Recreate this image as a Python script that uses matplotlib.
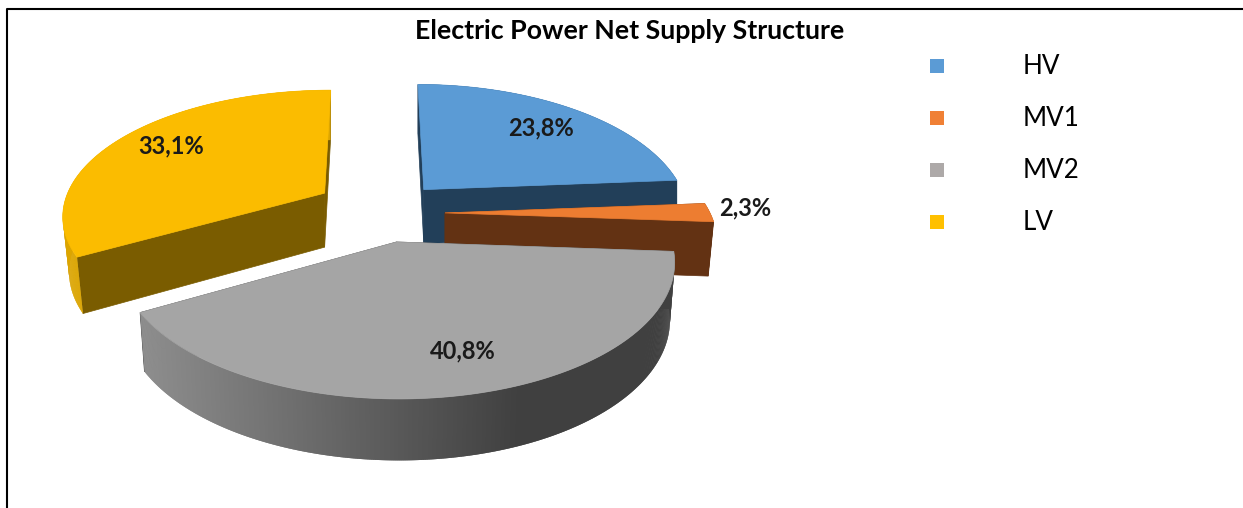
import numpy as np
import matplotlib
matplotlib.use("Agg")
import matplotlib.pyplot as plt
from matplotlib.colors import to_rgb
from matplotlib.patches import Polygon, Rectangle

title = "Electric Power Net Supply Structure"
labels = ["HV", "MV1", "MV2", "LV"]
shares = [23.8, 2.3, 40.8, 33.1]

# look of each slice
top_colors = ["#5b9bd5", "#ed7d31", "#a5a5a5", "#fbbc00"]
legend_colors = ["#5b9bd5", "#f08035", "#ada9a8", "#ffc000"]
cut_colors = ["#223f59", "#633213", "#404040", "#7a5c00"]
wall_left = ["#223f59", "#633213", "#8e8e8e", "#dca500"]
wall_right = ["#223f59", "#633213", "#404040", "#dca500"]
explode = [57, 60, 53, 70]
rx = [258, 265, 275, 257]
ry = [126, 126, 135, 120.5]
persp = [0.198, 0.198, 0.14, 0.17]
depth = [54, 54, 57, 54]
bottom_shrink = [1.0, 0.98, 0.983, 0.976]
draw_order = [3, 0, 1, 2]

# pie projection, in pixels of the picture
cx, cy = 385, 213
squash = 0.56
vanish_x = 375
skew = 0.12

fig = plt.figure(figsize=(12.43, 5.08), dpi=100)
ax = fig.add_axes([0, 0, 1, 1])
ax.set_xlim(0, 1243)
ax.set_ylim(508, 0)
ax.axis("off")

# frame of the pasted chart
ax.plot([7, 7, 1243], [508, 9, 9], color="black", lw=1.5, solid_capstyle="butt")

edges = np.concatenate([[0], np.cumsum(shares)]) / np.sum(shares) * 2 * np.pi

for i in draw_order:
    t0, t1 = edges[i], edges[i + 1]
    mid = (t0 + t1) / 2
    ox = cx + explode[i] * np.sin(mid)
    oy = cy - squash * explode[i] * np.cos(mid)
    ts = np.linspace(t0, t1, 400)
    w = 1 + persp[i] * np.cos(ts)
    px = rx[i] * np.sin(ts) / w - skew * (ox - vanish_x) * np.cos(ts)
    py = -ry[i] * np.cos(ts) / w
    top_x, top_y = ox + px, oy + py
    low_x = ox + bottom_shrink[i] * px
    low_y = top_y + depth[i] / np.sqrt(w)
    low_oy = oy + depth[i]

    # the two cut faces
    for k in [0, -1]:
        ax.add_patch(Polygon([(ox, oy), (top_x[k], top_y[k]), (low_x[k], low_y[k]), (ox, low_oy)],
                             closed=True, fc=cut_colors[i], ec=cut_colors[i], lw=0.5))

    # outer wall, shaded from left to right, each strip lapping over the next
    c0, c1 = np.array(to_rgb(wall_left[i])), np.array(to_rgb(wall_right[i]))
    for j in range(len(ts) - 2):
        f = np.clip((top_x[j] - 139) / (520 - 139), 0, 1)
        col = tuple(c0 + (c1 - c0) * f)
        ax.add_patch(Polygon([(top_x[j], top_y[j]), (top_x[j + 2], top_y[j + 2]),
                              (low_x[j + 2], low_y[j + 2]), (low_x[j], low_y[j])],
                             closed=True, fc=col, ec="none"))

    # top face
    ax.add_patch(Polygon(np.column_stack([np.r_[ox, top_x], np.r_[oy, top_y]]),
                         closed=True, fc=top_colors[i], ec=top_colors[i], lw=0.5))

# data labels
label_x = [541, 745, 463, 171]
label_y = [128, 208, 351, 146]
for v, x, y in zip(shares, label_x, label_y):
    ax.text(x, y, f"{v:.1f}%".replace(".", ","), ha="center", va="center",
            family="Lato", fontweight="bold", fontsize=17, color="#1a1a1a")

ax.text(630, 31, title, ha="center", va="center", family="Lato", fontweight="bold",
        fontsize=19.3, color="black")

# legend
for n, (lab, col) in enumerate(zip(labels, legend_colors)):
    y = 64 + 52 * n
    ax.add_patch(Rectangle((930, y - 5), 14, 14, fc=col, ec="none"))
    ax.text(1023, y + 2, lab, ha="left", va="center", family="Lato", fontsize=18.7, color="black")

fig.savefig("out.png", dpi=100)
